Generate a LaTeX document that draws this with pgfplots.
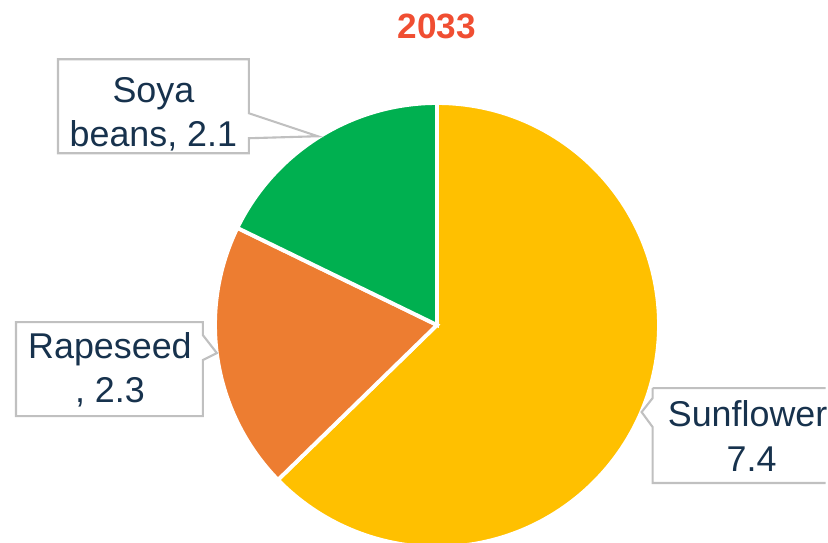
\documentclass[border=0pt]{standalone}
\usepackage{pgfplots}
\usepackage{pgfplotstable}
\pgfplotsset{compat=1.18}
\usepackage{fontspec}
\setmainfont{Liberation Sans}

\definecolor{sunfl}{RGB}{255,192,0}
\definecolor{rape}{RGB}{237,125,49}
\definecolor{soya}{RGB}{0,176,80}
\definecolor{labtxt}{RGB}{23,50,77}
\definecolor{ttl}{RGB}{240,78,50}
\definecolor{boxln}{RGB}{192,192,192}

\pgfplotstableread{
name value
Sunflower 7.4
Rapeseed 2.3
Soya 2.1
}\piedata

\begin{document}
\begin{tikzpicture}
\pgfplotstablegetelem{0}{value}\of\piedata \let\vA\pgfplotsretval
\pgfplotstablegetelem{1}{value}\of\piedata \let\vB\pgfplotsretval
\pgfplotstablegetelem{2}{value}\of\piedata \let\vC\pgfplotsretval
\pgfmathsetmacro\tot{\vA+\vB+\vC}
\pgfmathsetmacro\aA{90-360*\vA/\tot}
\pgfmathsetmacro\aB{\aA-360*\vB/\tot}
\pgfmathsetmacro\aC{\aB-360*\vC/\tot}
\def\R{2.22cm}
\useasboundingbox (0,0) rectangle (8.28cm,5.42cm);
\begin{scope}
\clip (0,0) rectangle (8.28cm,5.42cm);
\begin{axis}[
  scale only axis, width=4.30cm, height=4.30cm,
  xmin=-1, xmax=1, ymin=-1, ymax=1,
  hide axis, clip=false,
  at={(4.37cm,2.17cm)}, anchor=center,
]
\fill[sunfl, draw=white, line width=1.1pt] (axis cs:0,0) -- ++(90:\R)
  arc[start angle=90, end angle=\aA, radius=\R] -- cycle;
\fill[rape, draw=white, line width=1.1pt] (axis cs:0,0) -- ++(\aA:\R)
  arc[start angle=\aA, end angle=\aB, radius=\R] -- cycle;
\fill[soya, draw=white, line width=1.1pt] (axis cs:0,0) -- ++(\aB:\R)
  arc[start angle=\aB, end angle=\aC, radius=\R] -- cycle;
\end{axis}
\begin{scope}[x=0.01cm, y=0.01cm]
  \node[text=ttl, font=\fontsize{10}{12}\selectfont\bfseries] at (437,516) {2033};
  % callout boxes
  \begin{scope}[draw=boxln, line width=0.6pt, fill=white]
    \filldraw (58,483) -- (249,483) -- (249,429) -- (318,406) -- (249,404)
      -- (249,389) -- (58,389) -- cycle;
    \filldraw (16,220) -- (203,220) -- (203,207) -- (217,189) -- (203,182)
      -- (203,126) -- (16,126) -- cycle;
    \filldraw (653,154) -- (826,154) (826,59) -- (653,59) -- (653,115)
      -- (642,130) -- (653,144) -- (653,154);
  \end{scope}
  \begin{scope}[font=\fontsize{10.2}{12.6}\selectfont, text=labtxt, align=center]
    \node at (153.5,428) {Soya\\beans, 2.1};
    \node at (110,172) {Rapeseed\\, 2.3};
    \node[inner sep=0pt] at (752,106) {Sunflower,\\7.4};
  \end{scope}
\end{scope}
\end{scope}
\end{tikzpicture}
\end{document}
